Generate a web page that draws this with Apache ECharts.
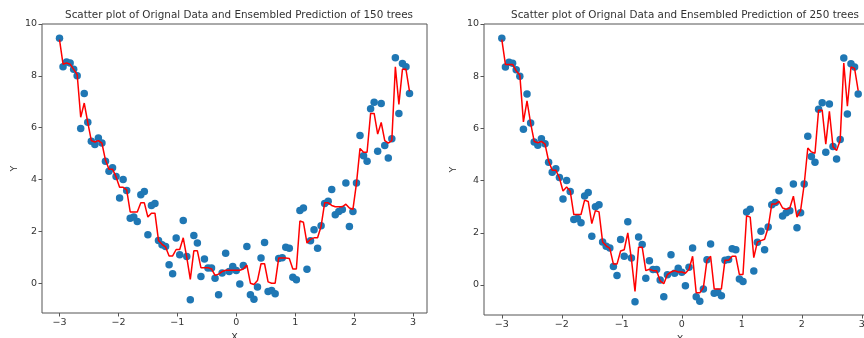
<!DOCTYPE html>
<html><head><meta charset="utf-8">
<script src="https://cdn.jsdelivr.net/npm/echarts@6/dist/echarts.min.js"></script>
<style>html,body{margin:0;padding:0;background:#fff}#c{width:864px;height:338px}</style>
</head><body><div id="c"></div>
<script>
const xValues = [
-3.00,-2.94,-2.88,-2.82,-2.76,-2.70,-2.64,-2.58,-2.52,-2.46,
-2.40,-2.34,-2.28,-2.22,-2.16,-2.10,-2.04,-1.98,-1.92,-1.86,
-1.80,-1.74,-1.68,-1.62,-1.56,-1.50,-1.44,-1.38,-1.32,-1.26,
-1.20,-1.14,-1.08,-1.02,-0.96,-0.90,-0.84,-0.78,-0.72,-0.66,
-0.60,-0.54,-0.48,-0.42,-0.36,-0.30,-0.24,-0.18,-0.12,-0.06,
0.00,0.06,0.12,0.18,0.24,0.30,0.36,0.42,0.48,0.54,
0.60,0.66,0.72,0.78,0.84,0.90,0.96,1.02,1.08,1.14,
1.20,1.26,1.32,1.38,1.44,1.50,1.56,1.62,1.68,1.74,
1.80,1.86,1.92,1.98,2.04,2.10,2.16,2.22,2.28,2.34,
2.40,2.46,2.52,2.58,2.64,2.70,2.76,2.82,2.88,2.94];
const yObserved = [
9.45,8.35,8.53,8.50,8.25,8.00,5.97,7.32,6.21,5.48,
5.35,5.60,5.41,4.70,4.32,4.45,4.12,3.29,4.00,3.58,
2.51,2.55,2.38,3.41,3.54,1.87,3.00,3.07,1.65,1.48,
1.42,0.71,0.36,1.74,1.10,2.42,1.03,-0.64,1.84,1.55,
0.26,0.93,0.59,0.59,0.19,-0.45,0.39,1.16,0.45,0.64,
0.49,-0.03,0.68,1.42,-0.45,-0.62,-0.15,0.97,1.57,-0.32,
-0.28,-0.41,0.95,0.98,1.39,1.35,0.23,0.13,2.80,2.90,
0.54,1.64,2.06,1.35,2.22,3.07,3.16,3.61,2.64,2.77,
2.84,3.87,2.19,2.77,3.87,5.70,4.92,4.70,6.73,6.98,
5.09,6.93,5.31,4.83,5.57,8.70,6.55,8.48,8.35,7.32];
const pred150 = [
9.40,8.45,8.50,8.45,8.25,8.05,6.40,6.95,6.20,5.50,
5.45,5.50,5.40,4.75,4.40,4.40,4.10,3.70,3.70,3.60,
2.75,2.75,2.75,3.10,3.10,2.55,2.70,2.70,1.65,1.50,
1.40,1.05,1.05,1.30,1.30,1.75,1.00,0.15,1.25,1.25,
0.60,0.60,0.60,0.55,0.30,0.35,0.45,0.50,0.50,0.50,
0.50,0.50,0.55,0.70,0.00,-0.05,0.10,0.75,0.75,0.05,
0.00,0.00,0.97,0.97,0.97,0.95,0.55,0.55,2.40,2.35,
1.55,1.70,1.75,1.75,2.20,3.10,3.10,3.00,2.95,2.95,
2.95,3.05,2.90,2.85,3.85,5.20,5.05,5.05,6.55,6.55,
5.75,6.20,5.50,5.40,5.50,8.35,6.90,8.25,8.25,7.40];
const pred250 = [
9.40,8.45,8.45,8.45,8.20,8.05,6.25,7.05,6.20,5.50,
5.45,5.50,5.40,4.75,4.40,4.40,4.10,3.60,3.75,3.60,
2.70,2.70,2.70,3.25,3.20,2.35,2.85,2.80,1.65,1.50,
1.40,0.80,0.80,1.30,1.35,2.00,1.00,-0.25,1.45,1.45,
0.55,0.60,0.55,0.55,0.15,0.05,0.40,0.50,0.55,0.50,
0.50,0.45,0.60,1.10,-0.30,-0.30,-0.10,0.95,1.10,-0.15,
-0.15,-0.15,0.95,0.95,1.10,1.10,0.40,0.40,2.65,2.60,
1.05,1.65,1.70,1.75,2.20,3.10,3.10,3.20,2.95,2.90,
2.95,3.40,2.60,2.85,3.85,5.25,5.10,5.05,6.70,6.70,
5.40,6.65,5.30,5.15,5.55,8.50,6.85,8.35,8.30,7.45];
const xTicks = [-3,-2,-1,0,1,2,3];
const yTicks = [0,2,4,6,8,10];
const titles = ['Scatter plot of Orignal Data and Ensembled Prediction of 150 trees',
                'Scatter plot of Orignal Data and Ensembled Prediction of 250 trees'];

const FONT = 'DejaVu Sans';
const minus = v => String(v).replace('-', '\u2212');
const grids = [
  {left: 42, width: 385, top: 24, height: 289},
  {left: 484, width: 392, top: 24, height: 291}
];
const scatterPts = xValues.map((x, i) => [x, yObserved[i]]);
const preds = [pred150, pred250];

const option = {
  backgroundColor: '#fff',
  animation: false,
  title: titles.map((t, i) => ({
    text: t,
    left: i === 0 ? 234 : 680,
    textAlign: 'center',
    top: 5,
    textStyle: {fontFamily: FONT, fontSize: 10.4, fontWeight: 'normal', color: '#333'}
  })),
  grid: grids.map(g => Object.assign({show: true, borderColor: '#555', borderWidth: 1, backgroundColor: '#fff', containLabel: false, outerBoundsMode: 'none'}, g)),
  xAxis: grids.map((g, i) => ({
    type: 'value', gridIndex: i, min: -3.297, max: 3.237,
    name: 'X', nameLocation: 'middle', nameGap: 14,
    nameTextStyle: {fontFamily: FONT, fontSize: 9.5, color: '#333'},
    splitLine: {show: false},
    axisLine: {show: false, onZero: false},
    axisTick: {show: true, length: 3.5, lineStyle: {color: '#555'}, customValues: xTicks},
    axisLabel: {fontFamily: FONT, fontSize: 9.5, color: '#333', margin: 5, customValues: xTicks, formatter: minus}
  })),
  yAxis: grids.map((g, i) => ({
    type: 'value', gridIndex: i, min: -1.15, max: 10,
    name: 'Y', nameLocation: 'middle', nameGap: i === 0 ? 22 : 25,
    nameTextStyle: {fontFamily: FONT, fontSize: 9.5, color: '#333'},
    splitLine: {show: false},
    axisLine: {show: false, onZero: false},
    axisTick: {show: true, length: 3.5, lineStyle: {color: '#555'}, customValues: yTicks},
    axisLabel: {fontFamily: FONT, fontSize: 9.5, color: '#333', margin: 5, customValues: yTicks, formatter: minus}
  })),
  series: [0, 1].flatMap(i => [
    {
      type: 'scatter', xAxisIndex: i, yAxisIndex: i, data: scatterPts,
      symbolSize: 7.5, itemStyle: {color: '#1f77b4', opacity: 1}, z: 2
    },
    {
      type: 'line', xAxisIndex: i, yAxisIndex: i,
      data: xValues.map((x, k) => [x, preds[i][k]]),
      showSymbol: false, symbol: 'none',
      lineStyle: {color: '#ff0000', width: 1.5}, z: 3
    }
  ])
};
echarts.init(document.getElementById('c')).setOption(option);
</script>
</body></html>
